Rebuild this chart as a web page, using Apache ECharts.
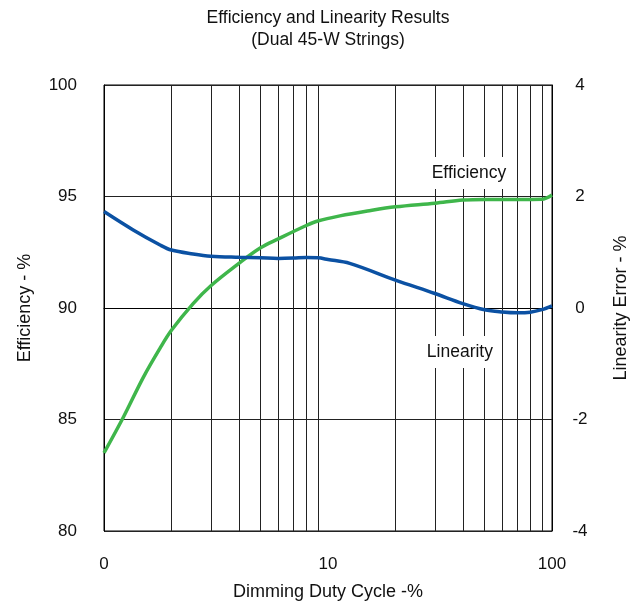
<!DOCTYPE html>
<html>
<head>
<meta charset="utf-8">
<script src="https://cdn.jsdelivr.net/npm/echarts@6/dist/echarts.min.js"></script>
<style>html,body{margin:0;padding:0;background:#fff}#c{width:636px;height:601px}</style>
</head>
<body>
<div id="c"></div>
<script>
// Efficiency (%), left axis
var effX = [1, 1.22, 1.5, 1.78, 2, 2.5, 3, 4, 5, 6, 8, 9, 11.3, 15, 20, 30, 40, 50, 70, 90, 100];
var effY = [83.5, 85.1, 86.9, 88.2, 89.0, 90.2, 91.0, 92.0, 92.7, 93.1, 93.7, 93.9, 94.13, 94.35, 94.54, 94.7, 94.84, 94.87, 94.87, 94.88, 95.07];
// Linearity error (%), right axis
var linX = [1, 1.35, 1.78, 2, 2.5, 3, 4, 5, 6, 7, 8, 9, 10, 12.5, 20, 30, 40, 50, 60, 70, 80, 90, 100];
var linY = [1.73, 1.40, 1.13, 1.04, 0.97, 0.93, 0.91, 0.90, 0.89, 0.895, 0.905, 0.90, 0.87, 0.80, 0.50, 0.26, 0.08, -0.03, -0.07, -0.085, -0.075, -0.03, 0.04];
// vertical grid lines (log decades; the reference has none at 10)
var vGrid = [2, 3, 4, 5, 6, 7, 8, 9, 20, 30, 40, 50, 60, 70, 80, 90];
// x tick labels
var xTickValues = [1, 10, 100];
var xTickLabels = ['0', '10', '100'];
// series annotation labels
var effLabel = {text: 'Efficiency', coord: [42.6, 96.05]};
var linLabel = {text: 'Linearity', coord: [38.8, -0.79]};

var FONT = 'Liberation Sans, Arial, sans-serif';
var TXT = '#111';
function pairs(xs, ys) { return xs.map(function (x, i) { return [x, ys[i]]; }); }

var chart = echarts.init(document.getElementById('c'), null, {renderer: 'canvas'});
chart.setOption({
  animation: false,
  backgroundColor: '#fff',
  title: {
    text: 'Efficiency and Linearity Results\n(Dual 45-W Strings)',
    left: 328, textAlign: 'center', top: 7, padding: 0,
    textStyle: {fontFamily: FONT, fontSize: 17.5, fontWeight: 'normal', color: TXT, lineHeight: 22}
  },
  grid: {left: 104, right: 84, top: 85, bottom: 70, containLabel: false, outerBoundsMode: 'none',
    show: true, borderColor: '#000', borderWidth: 1, backgroundColor: '#fff'},
  xAxis: {
    type: 'log', logBase: 10, min: 1, max: 100,
    name: 'Dimming Duty Cycle -%', nameLocation: 'middle', nameGap: 52,
    nameTextStyle: {fontFamily: FONT, fontSize: 18, color: TXT},
    axisLine: {show: true, lineStyle: {color: '#000', width: 1}},
    axisTick: {show: false},
    splitLine: {show: false},
    axisLabel: {
      margin: 25, fontFamily: FONT, fontSize: 17, color: TXT,
      formatter: function (v) { var i = xTickValues.indexOf(v); return i >= 0 ? xTickLabels[i] : ''; }
    }
  },
  yAxis: [{
    type: 'value', min: 80, max: 100, interval: 5, position: 'left',
    name: 'Efficiency - %', nameLocation: 'middle', nameGap: 70, nameRotate: 90,
    nameTextStyle: {fontFamily: FONT, fontSize: 18, color: TXT},
    axisLine: {show: true, lineStyle: {color: '#000', width: 1}},
    axisTick: {show: false},
    splitLine: {show: true, lineStyle: {color: '#222', width: 1}},
    axisLabel: {margin: 27, fontFamily: FONT, fontSize: 17, color: TXT}
  }, {
    type: 'value', min: -4, max: 4, interval: 2, position: 'right',
    name: 'Linearity Error - %', nameLocation: 'middle', nameGap: 60, nameRotate: 90,
    nameTextStyle: {fontFamily: FONT, fontSize: 18, color: TXT},
    axisLine: {show: true, lineStyle: {color: '#000', width: 1}},
    axisTick: {show: false},
    splitLine: {show: false},
    axisLabel: {margin: 28, align: 'center', fontFamily: FONT, fontSize: 17, color: TXT}
  }],
  series: [{
    name: 'Efficiency', type: 'line', yAxisIndex: 0, smooth: 0.35, showSymbol: false, symbol: 'none',
    z: 3,
    lineStyle: {color: '#3fb64b', width: 3.5},
    data: pairs(effX, effY),
    markLine: {
      silent: true, symbol: 'none', z: 1, animation: false,
      label: {show: false},
      lineStyle: {color: '#222', width: 1, type: 'solid'},
      data: vGrid.map(function (v) { return {xAxis: v}; })
    },
    markPoint: {
      silent: true, symbol: 'rect', symbolSize: 0, z: 10, animation: false,
      label: {show: true, position: 'inside', formatter: effLabel.text, fontFamily: FONT, fontSize: 17.5, color: TXT,
        backgroundColor: '#fff', padding: [7, 4, 7, 4]},
      data: [{coord: effLabel.coord}]
    }
  }, {
    name: 'Linearity', type: 'line', yAxisIndex: 1, smooth: 0.35, showSymbol: false, symbol: 'none',
    z: 3,
    lineStyle: {color: '#0b51a3', width: 3.5},
    data: pairs(linX, linY),
    markPoint: {
      silent: true, symbol: 'rect', symbolSize: 0, z: 10, animation: false,
      label: {show: true, position: 'inside', formatter: linLabel.text, fontFamily: FONT, fontSize: 17.5, color: TXT,
        backgroundColor: '#fff', padding: [7, 4, 7, 4]},
      data: [{coord: linLabel.coord}]
    }
  }]
});
</script>
</body>
</html>
